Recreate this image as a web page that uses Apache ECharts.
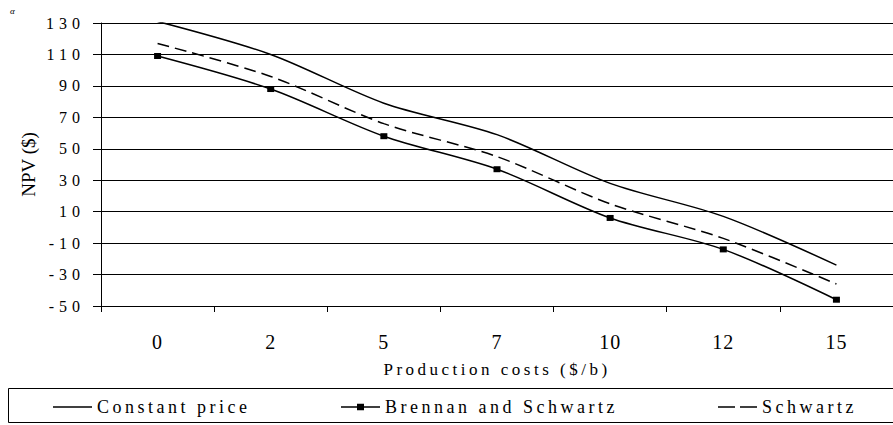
<!DOCTYPE html>
<html>
<head>
<meta charset="utf-8">
<script src="https://cdn.jsdelivr.net/npm/echarts@6/dist/echarts.min.js"></script>
<style>
html,body{margin:0;padding:0;background:#fff;}
#c{width:893px;height:425px;}
#c text{font-family:"Liberation Serif","Times New Roman",serif !important;}
#c text[style*="16px"]{letter-spacing:5px;}
#c text[style*="20px"]{letter-spacing:1px;}
#c text[style*="17px"]{letter-spacing:3.5px;}
#c text[style*="18px"]{letter-spacing:3.5px;}
</style>
</head>
<body>
<div id="c"></div>
<script>
const categories = ['0', '2', '5', '7', '10', '12', '15'];
const constantPrice = [131, 110, 79, 59, 28, 7, -24];
const brennanSchwartz = [109, 88, 58, 37, 6, -14, -46];
const schwartz = [117, 96, 66, 45, 15, -7, -36];
const seriesNames = ['Constant price', 'Brennan and Schwartz', 'Schwartz'];
const yMin = -50, yMax = 130, yStep = 20;

const FONT = 'Liberation Serif';
const chart = echarts.init(document.getElementById('c'), null, {renderer: 'svg'});

const ICON_SOLID = 'path://M0,0L39,0L39,1.5L0,1.5Z';
const ICON_MARK = 'path://M0,2.5L16,2.5L16,0L23,0L23,2.5L39,2.5L39,4L23,4L23,6.5L16,6.5L16,4L0,4Z';
const ICON_DASH = 'path://M0,0L17,0L17,1.5L0,1.5ZM22,0L39,0L39,1.5L22,1.5Z';

function legendAt(name, icon, left, h, top) {
  return {
    data: [{name: name, icon: icon}],
    left: left,
    top: top,
    padding: 0,
    itemWidth: 39,
    itemHeight: h,
    symbolKeepAspect: false,
    selectedMode: false,
    itemStyle: {color: '#000', borderWidth: 0},
    textStyle: {fontFamily: FONT, fontSize: 18, color: '#000'}
  };
}

const option = {
  animation: false,
  backgroundColor: '#fff',
  grid: {left: 101, top: 23, width: 798, height: 283, containLabel: false},
  legend: [
    legendAt(seriesNames[0], ICON_SOLID, 53, 1.5, 398),
    legendAt(seriesNames[1], ICON_MARK, 341, 6.5, 398),
    legendAt(seriesNames[2], ICON_DASH, 718, 1.5, 398)
  ],
  graphic: [
    {type: 'rect', silent: true, shape: {x: 8.5, y: 388.5, width: 900, height: 34},
     style: {fill: 'none', stroke: '#000', lineWidth: 1}},
    {type: 'text', silent: true, left: 10, top: 6,
     style: {text: 'α', fontSize: 9, fontStyle: 'italic', fontFamily: FONT, fill: '#000'}}
  ],
  xAxis: {
    type: 'category',
    data: categories,
    boundaryGap: true,
    axisLine: {onZero: false, lineStyle: {color: '#000', width: 1}},
    axisTick: {show: true, length: 6, lineStyle: {color: '#000'}},
    axisLabel: {fontFamily: FONT, fontSize: 20, color: '#000', margin: 26},
    splitLine: {show: false},
    name: 'Production costs ($/b)',
    nameLocation: 'middle',
    nameGap: 55,
    nameTextStyle: {fontFamily: FONT, fontSize: 17, color: '#000'}
  },
  yAxis: {
    type: 'value',
    min: yMin,
    max: yMax,
    interval: yStep,
    axisLine: {show: true, onZero: false, lineStyle: {color: '#000', width: 1}},
    axisTick: {show: true, length: 8, lineStyle: {color: '#000'}},
    axisLabel: {fontFamily: FONT, fontSize: 16, color: '#000', margin: 16},
    splitLine: {show: true, lineStyle: {color: '#000', width: 1}},
    name: 'NPV ($)',
    nameLocation: 'middle',
    nameGap: 63,
    nameTextStyle: {fontFamily: FONT, fontSize: 19, color: '#000'}
  },
  series: [
    {
      name: seriesNames[0], type: 'line', data: constantPrice, smooth: 0.3,
      symbol: 'none', lineStyle: {color: '#000', width: 1.5}, itemStyle: {color: '#000'}
    },
    {
      name: seriesNames[1], type: 'line', data: brennanSchwartz, smooth: 0.3,
      symbol: 'rect', symbolSize: [7, 6], showSymbol: true,
      lineStyle: {color: '#000', width: 1.5}, itemStyle: {color: '#000'}
    },
    {
      name: seriesNames[2], type: 'line', data: schwartz, smooth: 0.3,
      symbol: 'none', lineStyle: {color: '#000', width: 1.5, type: [12, 6]}, itemStyle: {color: '#000'}
    }
  ]
};
chart.setOption(option);
</script>
</body>
</html>
